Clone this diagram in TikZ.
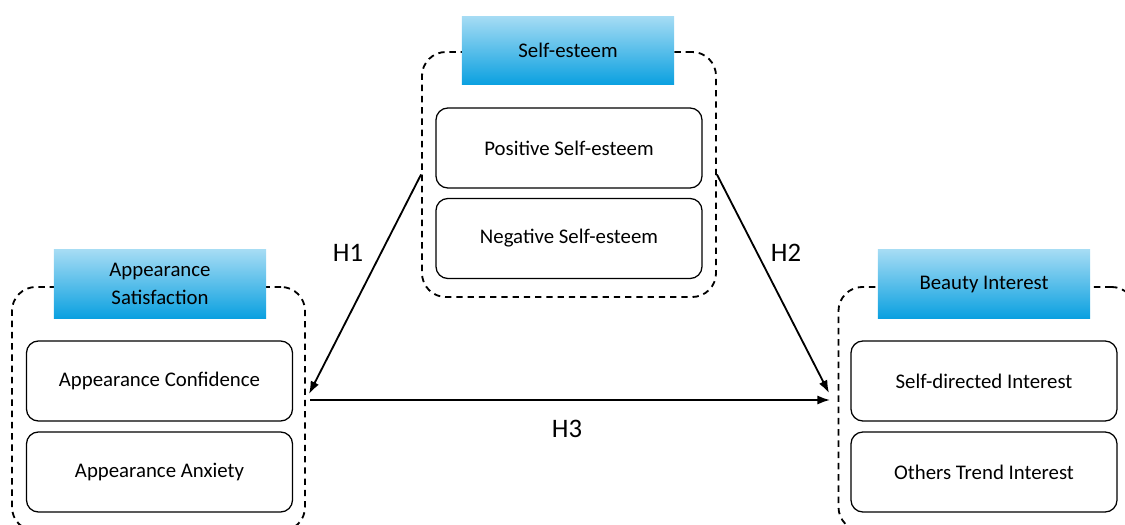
\documentclass[tikz,border=0pt]{standalone}
\usepackage{fontspec}
\setmainfont{Carlito}
\usetikzlibrary{arrows.meta}
\definecolor{headtop}{HTML}{A6DCF4}
\definecolor{headbot}{HTML}{0AA0E0}

\begin{document}
\begin{tikzpicture}[
x=0.025cm,y=-0.025cm,
group/.style={draw,dashed,line width=1.3pt,dash pattern=on 4.5pt off 3.5pt,rounded corners=0.6cm,inner sep=0pt},
itembox/.style={draw,line width=0.9pt,rounded corners=0.3cm,minimum width=6.65cm,minimum height=2cm,inner sep=0pt,font=\fontsize{14.8}{17}\selectfont},
headbox/.style={top color=headtop,bottom color=headbot,minimum width=5.3cm,minimum height=1.72cm,inner sep=0pt,align=center,font=\fontsize{14.8}{20}\selectfont},
hlabel/.style={font=\fontsize{19}{22}\selectfont},
link/.style={-{Latex[length=9pt,width=6.5pt]},line width=1.3pt}
]
\useasboundingbox (0,0) rectangle (1125,525);
%groups
\node (segroup) [group,minimum width=7.35cm,minimum height=6.125cm] at (569,174.5) {};
\node (asgroup) [group,minimum width=7.325cm,minimum height=6.1cm] at (158.5,409) {};
\node (bigroup) [group,minimum width=7.425cm,minimum height=6.1cm] at (987,409) {};
%headers
\node (sehead) [headbox] at (568,50.5) {Self-esteem};
\node (ashead) [headbox] at (160,284) {Appearance\\Satisfaction};
\node (bihead) [headbox] at (984,284) {Beauty Interest};
%items
\node (pse) [itembox] at (569,148) {Positive Self-esteem};
\node (nse) [itembox] at (569,238.5) {Negative Self-esteem};
\node (acon) [itembox] at (159.5,381) {Appearance Confidence};
\node (aanx) [itembox] at (159.5,472) {Appearance Anxiety};
\node (sdi) [itembox] at (984,381) {Self-directed Interest};
\node (oti) [itembox] at (984,472) {Others Trend Interest};
%links
\coordinate (h1end) at (309,394);
\coordinate (h2end) at (829,393);
\coordinate (h3start) at (310,400);
\coordinate (h3end) at (830,400);
\draw[link] (segroup.west) -- (h1end);
\draw[link] (segroup.east) -- (h2end);
\draw[link] (h3start) -- (h3end);
\node (h1) [hlabel] at (348,253) {H1};
\node (h2) [hlabel] at (786,253) {H2};
\node (h3) [hlabel] at (567,429) {H3};
\end{tikzpicture}
\end{document}
